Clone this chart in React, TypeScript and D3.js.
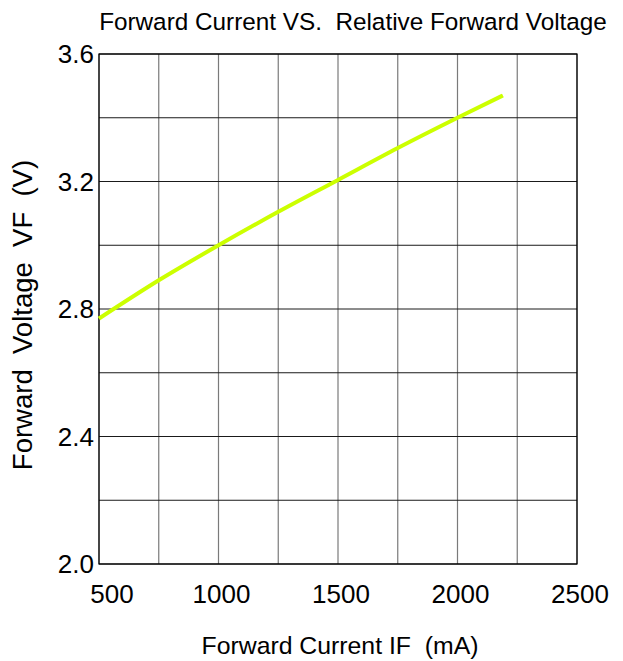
import React, { useEffect, useRef } from 'react';
import * as d3 from 'd3';

// values
const currents = [500, 750, 1000, 1250, 1500, 1750, 2000, 2190];
const voltages = [2.77, 2.89, 3.0, 3.105, 3.205, 3.305, 3.4, 3.47];

const xTicks = [500, 1000, 1500, 2000, 2500];
const yTicks = [2.0, 2.4, 2.8, 3.2, 3.6];
const xGrid = [500, 750, 1000, 1250, 1500, 1750, 2000, 2250, 2500];
const yGrid = [2.0, 2.2, 2.4, 2.6, 2.8, 3.0, 3.2, 3.4, 3.6];

const title = 'Forward Current VS.  Relative Forward Voltage';
const xTitle = 'Forward Current IF  (mA)';
const yTitle = 'Forward  Voltage  VF  (V)';

const App = () => {
    const ref = useRef<SVGSVGElement>(null);

    useEffect(() => {
        const width = 623;
        const height = 661;
        const left = 99;
        const right = 577;
        const top = 54;
        const bottom = 564;
        const font = 'Arial, "Liberation Sans", sans-serif';

        const svg = d3.select(ref.current);
        svg.selectAll('*').remove();
        svg.attr('width', width).attr('height', height);

        const x = d3.scaleLinear().domain([500, 2500]).range([left, right]);
        const y = d3.scaleLinear().domain([2.0, 3.6]).range([bottom, top]);

        // grid
        svg.append('g').selectAll('line').data(xGrid).enter()
            .append('line')
            .attr('x1', (d) => x(d)).attr('x2', (d) => x(d))
            .attr('y1', top).attr('y2', bottom)
            .attr('stroke', '#7a7a7a').attr('stroke-width', 1.2);
        svg.append('g').selectAll('line').data(yGrid).enter()
            .append('line')
            .attr('x1', left).attr('x2', right)
            .attr('y1', (d) => y(d)).attr('y2', (d) => y(d))
            .attr('stroke', '#1a1a1a').attr('stroke-width', 1);

        // frame
        svg.append('rect')
            .attr('x', left).attr('y', top)
            .attr('width', right - left).attr('height', bottom - top)
            .attr('fill', 'none').attr('stroke', '#000').attr('stroke-width', 1.2);

        // curve
        const line = d3.line<number>()
            .x((d, i) => x(currents[i]))
            .y((d) => y(d))
            .curve(d3.curveMonotoneX);
        svg.append('path')
            .datum(voltages)
            .attr('d', line)
            .attr('fill', 'none')
            .attr('stroke', '#ccff00')
            .attr('stroke-width', 4)
            .attr('stroke-linecap', 'butt');

        // tick labels
        svg.append('g').selectAll('text').data(xTicks).enter()
            .append('text')
            .attr('x', (d, i) => x(d) + (i === 0 ? 13 : 3))
            .attr('y', 603)
            .attr('text-anchor', 'middle')
            .attr('font-family', font).attr('font-size', 26).attr('fill', '#000')
            .text((d) => d);
        svg.append('g').selectAll('text').data(yTicks).enter()
            .append('text')
            .attr('x', 94)
            .attr('y', (d) => y(d) + 9)
            .attr('text-anchor', 'end')
            .attr('font-family', font).attr('font-size', 26).attr('fill', '#000')
            .text((d) => d.toFixed(1));

        // titles
        svg.append('text')
            .attr('x', 353).attr('y', 30)
            .attr('text-anchor', 'middle')
            .attr('font-family', font).attr('font-size', 24.3).attr('fill', '#000')
            .style('white-space', 'pre')
            .text(title);
        svg.append('text')
            .attr('x', 340).attr('y', 654)
            .attr('text-anchor', 'middle')
            .attr('font-family', font).attr('font-size', 24.8).attr('fill', '#000')
            .style('white-space', 'pre')
            .text(xTitle);
        svg.append('text')
            .attr('transform', 'translate(32,315) rotate(-90)')
            .attr('text-anchor', 'middle')
            .attr('font-family', font).attr('font-size', 27.5).attr('fill', '#000')
            .style('white-space', 'pre')
            .text(yTitle);
    }, []);

    return (
        <svg ref={ref} style={{ position: 'absolute', left: 0, top: 0, background: '#fff' }} />
    );
};

export default App;
